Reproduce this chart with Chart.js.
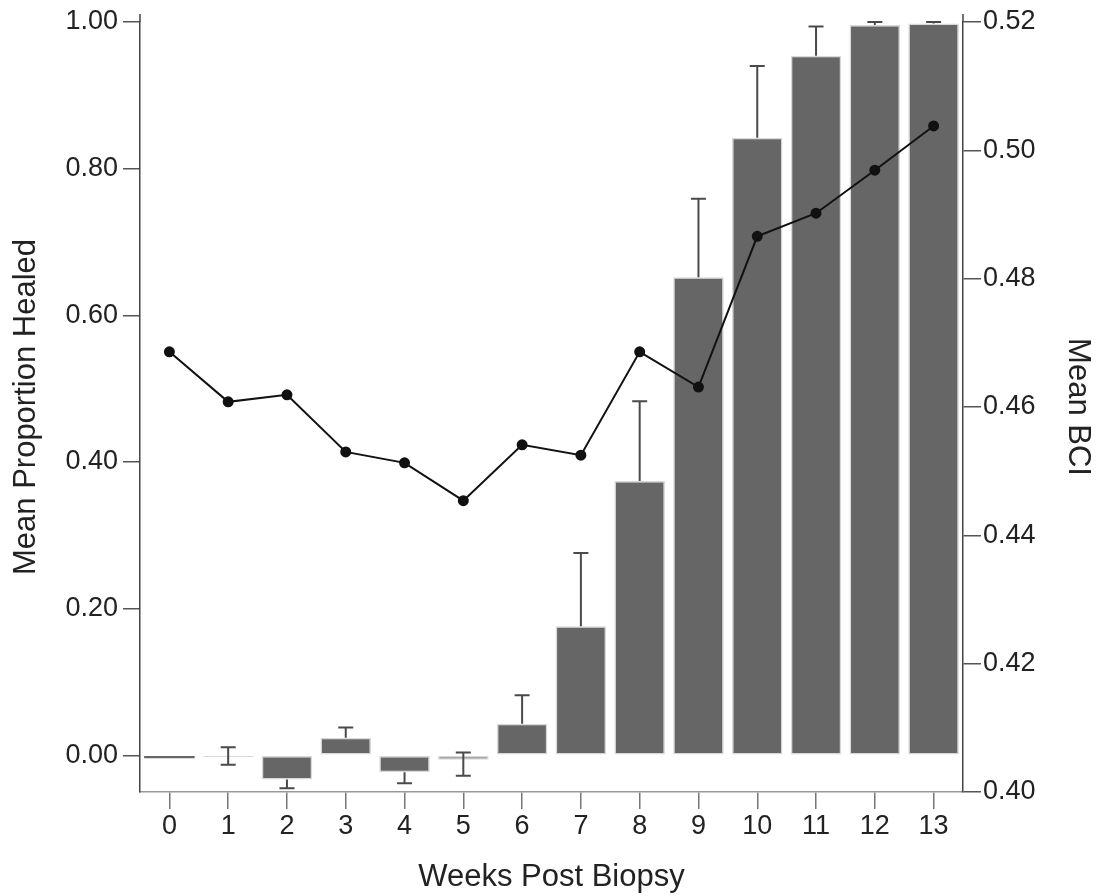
<!DOCTYPE html>
<html>
<head>
<meta charset="utf-8">
<script src="https://cdn.jsdelivr.net/npm/chart.js@4/dist/chart.umd.min.js"></script>
<style>
  body { margin: 0; background: #fff; }
  canvas { display: block; }
</style>
</head>
<body>
<canvas id="healChart" width="1098" height="896"></canvas>
<script>
// Weeks on the x axis
const weeks = ['0', '1', '2', '3', '4', '5', '6', '7', '8', '9', '10', '11', '12', '13'];
// Mean proportion healed (bars, left axis)
const healed = [-0.004, -0.002, -0.033, 0.024, -0.023, -0.006, 0.043, 0.176, 0.374, 0.652, 0.842, 0.954, 0.996, 0.998];
// Error bar ends (null = not drawn)
const errHigh = [null, 0.011, null, 0.038, null, 0.004, 0.082, 0.276, 0.483, 0.759, 0.940, 0.994, 1.000, 1.000];
const errLow = [null, -0.013, -0.045, null, -0.038, -0.028, null, null, null, null, null, null, null, null];
// Mean BCI (line, right axis)
const bci = [0.4686, 0.4608, 0.4619, 0.4530, 0.4513, 0.4454, 0.4541, 0.4525, 0.4686, 0.4631, 0.4866, 0.4902, 0.4969, 0.5038];
// Tick labels
const leftTicks = [0, 0.2, 0.4, 0.6, 0.8, 1.0];
const rightTicks = [0.40, 0.42, 0.44, 0.46, 0.48, 0.50, 0.52];

const FONT = "'Liberation Sans', Arial, sans-serif";
const textColor = '#222';

// Draws the error bars from the bar values using the chart scales
const errorBars = {
  id: 'errorBars',
  afterDatasetsDraw(chart) {
    const ctx = chart.ctx;
    const x = chart.scales.x;
    const y = chart.scales.y;
    ctx.save();
    ctx.strokeStyle = '#4a4a4a';
    ctx.lineWidth = 2;
    healed.forEach((v, i) => {
      if (errHigh[i] === null && errLow[i] === null) return;
      const px = x.getPixelForValue(i);
      const top = y.getPixelForValue(errHigh[i] !== null ? errHigh[i] : v);
      const bot = y.getPixelForValue(errLow[i] !== null ? errLow[i] : v);
      ctx.beginPath();
      ctx.moveTo(px, top);
      ctx.lineTo(px, bot);
      if (errHigh[i] !== null) { ctx.moveTo(px - 7.5, top); ctx.lineTo(px + 7.5, top); }
      if (errLow[i] !== null) { ctx.moveTo(px - 7.5, bot); ctx.lineTo(px + 7.5, bot); }
      ctx.stroke();
    });
    ctx.restore();
  },
  // small extension of the vertical axes above the top tick
  afterDraw(chart) {
    const ctx = chart.ctx;
    const a = chart.chartArea;
    ctx.save();
    ctx.strokeStyle = '#444';
    ctx.lineWidth = 1.5;
    ctx.beginPath();
    ctx.moveTo(a.left, a.top); ctx.lineTo(a.left, a.top - 8);
    ctx.moveTo(a.right, a.top); ctx.lineTo(a.right, a.top - 8);
    ctx.stroke();
    ctx.restore();
  }
};

const ctx = document.getElementById('healChart').getContext('2d');
const healChart = new Chart(ctx, {
  type: 'bar',
  data: {
    labels: weeks,
    datasets: [{
      type: 'line',
      label: 'Mean BCI',
      data: bci,
      yAxisID: 'y2',
      borderColor: '#111',
      borderWidth: 2,
      pointRadius: 4.5,
      pointBackgroundColor: '#111',
      pointBorderColor: '#111',
      tension: 0,
      order: 0
    }, {
      label: 'Mean Proportion Healed',
      data: healed,
      yAxisID: 'y',
      // nearly-zero bars: week 0 shows as a dark dash, week 1 as a pale line
      backgroundColor: c => c.dataIndex === 1 ? '#cfcfcf' : '#666666',
      borderColor: '#d8d8d8',
      borderWidth: c => c.dataIndex <= 1 ? 0 : 1.5,
      borderSkipped: false,
      categoryPercentage: 1,
      barPercentage: 0.86,
      order: 1
    }]
  },
  options: {
    responsive: false,
    animation: false,
    layout: { padding: { top: 22, left: 0, right: 0, bottom: 0 } },
    plugins: {
      legend: { display: false },
      tooltip: { enabled: false }
    },
    scales: {
      x: {
        afterFit: s => { s.height = 104; },
        grid: { offset: false, drawOnChartArea: false, tickLength: 17, tickColor: '#777', lineWidth: 1.5 },
        border: { color: '#999', width: 1.5 },
        ticks: { color: textColor, font: { family: FONT, size: 27 }, padding: 1, maxRotation: 0 },
        title: { display: true, text: 'Weeks Post Biopsy', color: textColor, font: { family: FONT, size: 31 }, padding: { top: 0, bottom: 0 } }
      },
      y: {
        position: 'left',
        min: -0.05,
        max: 1.0,
        afterFit: s => { s.width = 140; },
        afterBuildTicks: s => { s.ticks = leftTicks.map(v => ({ value: v })); },
        grid: { drawOnChartArea: false, tickLength: 17, tickColor: '#555', lineWidth: 1.5 },
        border: { color: '#444', width: 1.5 },
        ticks: { color: textColor, font: { family: FONT, size: 27 }, padding: 5, callback: v => v.toFixed(2) },
        title: { display: true, text: 'Mean Proportion Healed', color: textColor, font: { family: FONT, size: 31 }, padding: { top: 8, bottom: 0 } }
      },
      y2: {
        position: 'right',
        min: 0.40,
        max: 0.52,
        afterFit: s => { s.width = 135; },
        afterBuildTicks: s => { s.ticks = rightTicks.map(v => ({ value: v })); },
        grid: { drawOnChartArea: false, tickLength: 18, tickColor: '#555', lineWidth: 1.5 },
        border: { color: '#444', width: 1.5 },
        ticks: { color: textColor, font: { family: FONT, size: 27 }, padding: 2, callback: v => v.toFixed(2) },
        title: { display: true, text: 'Mean BCI', color: textColor, font: { family: FONT, size: 31 }, padding: { top: 2, bottom: 0 } }
      }
    }
  },
  plugins: [errorBars]
});
</script>
</body>
</html>
